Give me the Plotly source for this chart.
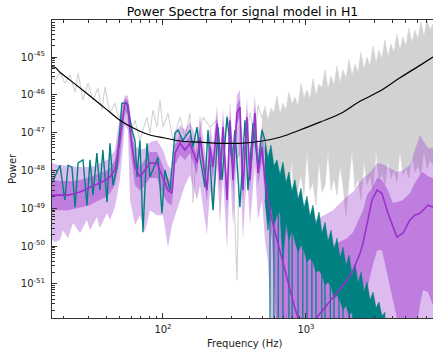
import plotly.graph_objects as go
import numpy as np

# ---------------- data (frequency in Hz, log10 power) ----------------
noise_f = [16.75, 17.6, 19.05, 22.4, 26.3, 30.9, 36.2, 42.6, 50.0, 58.8, 69.0, 81.1, 103, 131.5,
           181.5, 250.5, 345, 492, 658, 908, 1253, 1730, 2387, 3290, 4538, 6265, 7730]
noise_lp = [-45.26, -45.27, -45.40, -45.61, -45.82, -46.03, -46.24, -46.46, -46.67, -46.83, -46.96,
            -47.06, -47.14, -47.22, -47.25, -47.28, -47.28, -47.22, -47.12, -46.93, -46.72, -46.50,
            -46.17, -45.90, -45.55, -45.22, -45.00]

data_f = [16.75, 17.58, 19.05, 20.6, 22.4, 24.3, 25.5, 27.6, 29.9, 32.4, 35.1, 37.4, 39.3, 42.6,
          46.1, 48.4, 51.6, 56.0, 58.8, 63.7, 69.0, 77.3, 81.1, 85.1, 90.8, 95.3, 100, 108.4,
          117.5, 131.5, 142.6, 154.5, 162.2, 172.9, 190.5, 213.2, 238.8, 258.8, 280.6, 303.9,
          329.2, 345.3, 374.3, 405.7, 439.7, 461.6, 492.3]
data_lp = [-45.53, -45.61, -45.40, -45.69, -45.48, -45.93, -45.42, -46.14, -45.69, -46.14, -45.82,
           -46.40, -45.79, -46.48, -46.22, -46.53, -46.67, -46.40, -47.01, -46.67, -47.20, -46.59,
           -47.01, -46.40, -46.85, -46.14, -46.85, -46.48, -47.20, -46.59, -47.12, -46.48, -48.86,
           -47.28, -46.59, -46.85, -46.67, -47.72, -46.53, -47.20, -50.90, -46.80, -47.46, -46.46,
           -47.20, -46.27, -46.61]

data_hi_f = [492.3, 516.6, 542.0, 568.9, 597.0, 626.6, 657.7, 690.2, 724.4, 760.3, 797.7, 837.4,
             879.4, 922.6, 968.3, 1016, 1066, 1119, 1175, 1233, 1294, 1358, 1426, 1496, 1570, 1648,
             1730, 1815, 1905, 2000, 2099, 2203, 2312, 2427, 2547, 2672, 2805, 2944, 3090, 3239,
             3398, 3566, 3742, 3927, 4121, 4325, 4538, 4762, 5000, 5248, 5508, 5777, 6067, 6368,
             6683, 7015, 7362, 7730]
data_hi_upper = [-46.61, -46.30, -46.69, -46.35, -46.48, -46.03, -46.51, -46.22, -46.40, -45.93,
                 -46.24, -46.06, -46.30, -45.71, -46.08, -45.87, -46.11, -45.58, -46.01, -45.71,
                 -45.82, -45.34, -45.85, -45.50, -45.74, -45.24, -45.69, -45.34, -45.56, -45.08,
                 -45.50, -45.19, -45.40, -44.87, -45.34, -45.00, -45.24, -44.71, -45.16, -44.82,
                 -45.05, -44.55, -45.00, -44.66, -44.87, -44.39, -44.82, -44.47, -44.71, -44.23,
                 -44.63, -44.29, -44.52, -44.07, -44.47, -44.02, -44.29, -44.13]
data_hi_lower = [-47.86, -47.46, -48.20, -48.04, -47.72, -48.52, -48.33, -48.78, -49.63, -48.41,
                 -47.72, -49.84, -48.47, -48.12, -48.65, -47.46, -48.52, -48.31, -48.92, -47.72,
                 -48.57, -48.39, -47.46, -48.52, -48.20, -48.65, -47.86, -48.39, -49.18, -48.25,
                 -47.46, -48.47, -48.20, -48.78, -47.72, -48.39, -48.12, -48.52, -47.46, -48.31,
                 -48.04, -48.39, -47.72, -48.20, -47.99, -48.31, -47.46, -48.12, -47.94, -48.20,
                 -47.59, -48.04, -47.86, -48.12, -47.46, -47.94, -47.72, -47.86]

inj_f = [16.75, 19.05, 20.6, 21.7, 23.1, 24.3, 25.5, 27.6, 29.4, 30.9, 32.4, 34.5, 36.2, 38.0, 40.6,
         42.6, 44.7, 47.7, 51.6, 56.0, 60.7, 63.7, 65.8, 69.0, 72.5, 77.3, 81.1, 85.1, 92.3, 98.4,
         103.3, 111.9, 121.3, 127.3, 138.0, 154.5, 162.2, 172.9, 181.5, 196.6, 206.5, 223.9, 242.7,
         258.8, 280.6, 303.9, 318.7, 345.3, 374.3, 392.9, 425.9, 461.6, 492.3, 516.6]
inj_lp = [-48.33, -47.86, -48.78, -47.86, -47.91, -48.97, -47.80, -47.72, -48.92, -47.72, -48.65,
          -47.54, -48.52, -47.46, -48.84, -47.28, -48.39, -47.91, -46.22, -46.22, -46.93, -47.20,
          -48.17, -47.20, -49.63, -47.28, -48.17, -47.99, -47.65, -49.13, -47.99, -48.52, -47.01,
          -46.93, -47.20, -46.93, -47.38, -46.85, -47.65, -48.44, -46.93, -49.05, -46.85, -48.25,
          -46.59, -47.80, -46.93, -48.97, -46.67, -48.52, -46.75, -47.91, -46.93, -47.20]

inj_hi_f = [516.6, 542.0, 568.9, 597.0, 626.6, 657.7, 690.2, 724.4, 760.3, 797.7, 837.4, 879.4,
            922.6, 968.3, 1016, 1066, 1119, 1175, 1233, 1294, 1358, 1426, 1496, 1570, 1648, 1730,
            1815, 1905, 2000, 2099, 2203, 2312, 2427, 2547, 2672, 2805, 2944, 3090, 3239, 3398, 3566]
inj_hi_upper = [-47.20, -47.67, -47.33, -47.88, -47.72, -48.12, -47.78, -48.33, -48.04, -48.55,
                -48.25, -48.76, -48.47, -48.99, -48.68, -49.21, -48.92, -49.44, -49.10, -49.66,
                -49.37, -49.87, -49.58, -50.11, -49.79, -50.32, -50.03, -50.53, -50.24, -50.77,
                -50.48, -50.98, -50.69, -51.22, -50.95, -51.43, -51.22, -51.64, -51.48, -51.85,
                -51.75]
inj_hi_lower = [-48.78, -49.58, -48.92, -49.44, -49.18, -49.10, -50.37, -49.37, -49.84, -49.58,
                -49.84, -50.16, -49.97, -50.11, -50.42, -50.32, -50.42, -50.69, -50.64, -50.77,
                -51.03, -50.95, -51.06, -51.38, -51.30, -51.43, -51.69, -51.56, -51.83, -51.75,
                -52.5, -52.5, -52.5, -52.5, -52.5, -52.5, -52.5, -52.5, -52.5, -52.5, -52.5]
inj_spike_f = [560, 597, 640, 690, 760, 800, 880, 950, 1016, 1100, 1175, 1290, 1358, 1480, 1570,
               1700, 1815, 2000]
inj_spike_top = [-49.0, -49.2, -49.0, -49.4, -49.3, -49.6, -49.6, -49.9, -49.9, -50.2, -50.2,
                 -50.5, -50.5, -50.9, -50.9, -51.2, -51.2, -51.4]
spike_floor = -52.5

model_f = [16.75, 17.58, 19.05, 20.0, 21.7, 23.5, 26.3, 29.4, 30.9, 34.5, 36.2, 40.6, 42.6, 46.1,
           50.0, 54.2, 56.9, 58.8, 63.7, 69.0, 74.8, 81.1, 90.8, 100, 108.4, 115.6, 121.3, 131.5,
           142.6, 154.5, 172.9, 181.5, 203.0, 213.2, 223.9, 238.8, 250.5, 263.0, 280.6, 294.2,
           308.9, 329.2, 345.3, 362.4, 386.6, 405.7, 439.7, 461.6, 492.3, 516.6, 542.0, 578.2,
           626.6, 712.8, 837.4, 984, 1194, 1545, 1936, 2132, 2387, 2505, 2672, 2897, 3140, 3398,
           3742, 4055, 4325, 4762, 5331, 5777, 6265, 6580, 7131, 7730]
model_median = [-48.65, -48.65, -48.65, -48.65, -48.65, -48.62, -48.57, -48.49, -48.44, -48.36,
                -48.33, -48.23, -48.17, -47.99, -47.20, -46.19, -46.27, -46.93, -47.91, -48.17,
                -47.99, -47.80, -47.80, -48.17, -48.52, -48.60, -47.54, -47.28, -47.46, -47.28,
                -47.80, -47.12, -48.52, -47.38, -47.91, -46.75, -48.25, -46.85, -48.78, -46.67,
                -48.25, -46.48, -46.32, -48.52, -46.59, -48.25, -46.48, -48.07, -47.38, -48.25,
                -48.78, -49.31, -49.84, -50.64, -51.64, -52.5, -51.88, -51.35, -50.90, -50.64,
                -50.19, -49.92, -49.39, -48.78, -48.52, -48.60, -49.13, -49.50, -49.76, -49.66,
                -49.31, -49.18, -49.13, -49.05, -48.92, -48.97]
model_50_upper = [-48.25, -48.25, -48.28, -48.28, -48.28, -48.28, -48.25, -48.20, -48.17, -48.10,
                  -48.07, -47.99, -47.94, -47.72, -46.80, -46.08, -46.14, -46.61, -47.59, -47.91,
                  -47.72, -47.51, -47.51, -47.86, -48.20, -48.31, -47.33, -47.06, -47.25, -47.06,
                  -47.59, -46.90, -48.25, -47.17, -47.67, -46.53, -47.99, -46.64, -48.52, -46.46,
                  -47.99, -46.27, -46.11, -48.25, -46.38, -47.99, -46.27, -47.80, -47.17, -47.86,
                  -48.25, -48.65, -48.92, -49.18, -49.71, -50.11, -50.16, -49.97, -49.79, -49.63,
                  -49.23, -49.05, -48.65, -48.47, -48.20, -48.25, -48.52, -48.86, -48.84, -48.78,
                  -48.60, -48.33, -48.12, -48.04, -48.15, -48.20]
model_50_lower = [-49.05, -49.05, -49.05, -49.05, -49.05, -49.02, -48.99, -48.94, -48.92, -48.81,
                  -48.78, -48.68, -48.60, -48.39, -47.72, -46.40, -46.53, -47.33, -48.39, -48.52,
                  -48.39, -48.20, -48.20, -48.65, -48.86, -48.92, -47.86, -47.59, -47.72, -47.54,
                  -48.12, -47.38, -48.84, -47.65, -48.20, -47.01, -48.57, -47.12, -49.10, -46.93,
                  -48.57, -46.75, -46.59, -48.84, -46.85, -48.57, -46.75, -48.39, -47.72, -48.65,
                  -49.18, -49.84, -52.5, -52.5, -52.5, -52.5, -52.5, -52.5, -52.5, -52.5,
                  -52.5, -51.90, -51.16, -50.58, -50.11, -50.11, -50.77, -51.43, -51.90, -52.5,
                  -52.5, -52.5, -51.56, -51.16, -51.22, -51.56]
model_90_upper = [-47.80, -47.83, -47.86, -47.86, -47.88, -47.88, -47.91, -47.91, -47.91, -47.86,
                  -47.80, -47.72, -47.65, -47.46, -46.53, -46.01, -46.03, -46.40, -47.33, -47.46,
                  -47.41, -47.25, -47.20, -47.46, -47.86, -47.99, -47.06, -46.80, -46.93, -46.72,
                  -47.20, -46.53, -47.86, -46.80, -47.33, -46.27, -47.59, -46.35, -48.12, -46.14,
                  -47.59, -46.01, -45.87, -47.86, -46.08, -47.59, -46.01, -47.46, -46.80, -47.46,
                  -47.86, -48.12, -48.31, -48.65, -49.10, -49.37, -49.29, -49.05, -48.68, -48.57,
                  -48.31, -48.20, -48.12, -47.99, -47.80, -47.83, -47.91, -47.99, -48.04, -47.99,
                  -47.86, -47.46, -47.06, -47.20, -47.41, -47.41]
model_90_lower = [-49.84, -49.89, -49.84, -49.58, -49.79, -49.39, -49.66, -49.31, -49.58, -49.23,
                  -49.52, -49.13, -49.31, -48.97, -48.25, -46.80, -46.93, -48.78, -49.44, -49.18,
                  -49.63, -49.05, -49.18, -49.18, -50.03, -49.44, -49.18, -48.78, -48.39, -48.12,
                  -48.78, -48.39, -49.71, -48.52, -49.05, -47.86, -49.44, -48.12, -50.11, -47.99,
                  -49.44, -47.72, -47.59, -49.84, -47.99, -49.44, -47.86, -49.31, -48.78, -49.84,
                  -50.42] + [-52.5] * 25

y_tick_exp = [-45, -46, -47, -48, -49, -50, -51]
x_tick_vals = [100, 1000]
x_tick_text = ["10<sup>2</sup>", "10<sup>3</sup>"]


def pw(a):
    return [10.0 ** v for v in a]


def band(f, up, lo, color, line_color=None, lw=0):
    return go.Scatter(x=list(f) + list(f)[::-1], y=pw(up) + pw(lo)[::-1], mode="lines",
                      line=dict(width=lw, color=line_color or color), fill="toself",
                      fillcolor=color, hoverinfo="skip", showlegend=False)


spike_x, spike_y = [], []
for f, t in zip(inj_spike_f, inj_spike_top):
    spike_x += [f, f, None]
    spike_y += [10.0 ** t, 10.0 ** spike_floor, None]

GRAY = "#d2d2d2"
TEAL = "#008080"
fig = go.Figure()
fig.add_trace(go.Scatter(x=data_f, y=pw(data_lp), mode="lines",
                         line=dict(color=GRAY, width=1.1), showlegend=False))
fig.add_trace(band(data_hi_f, data_hi_upper, data_hi_lower, GRAY, GRAY, 0.6))
fig.add_trace(band(model_f, model_90_upper, model_90_lower, "rgba(153,50,204,0.33)"))
fig.add_trace(band(model_f, model_50_upper, model_50_lower, "rgba(153,50,204,0.45)"))
fig.add_trace(go.Scatter(x=inj_f, y=pw(inj_lp), mode="lines",
                         line=dict(color=TEAL, width=1.4), showlegend=False))
fig.add_trace(band(inj_hi_f, inj_hi_upper, inj_hi_lower, TEAL, TEAL, 0.6))
fig.add_trace(go.Scatter(x=spike_x, y=spike_y, mode="lines", connectgaps=False,
                         line=dict(color=TEAL, width=1.2), showlegend=False))
fig.add_trace(go.Scatter(x=model_f, y=pw(model_median), mode="lines",
                         line=dict(color="#9932cc", width=1.6), showlegend=False))
fig.add_trace(go.Scatter(x=noise_f, y=pw(noise_lp), mode="lines", line_shape="spline",
                         line=dict(color="black", width=1.2), showlegend=False))

x_minor = [k * 10 ** n for n in (1, 2, 3) for k in range(2, 10)]
y_minor = [k * 10.0 ** n for n in range(-52, -44) for k in range(2, 10)]

fig.update_layout(
    width=433, height=350, margin=dict(l=52, r=0, t=20, b=32),
    paper_bgcolor="white", plot_bgcolor="white",
    font=dict(family="DejaVu Sans", size=10, color="#222"),
    title=dict(text="Power Spectra for signal model in H1", x=0.5, xref="paper",
               y=1 - 12 / 350, yref="container", yanchor="middle", xanchor="center",
               font=dict(size=12.5, color="black")),
    xaxis=dict(type="log", range=[np.log10(16.75), np.log10(7730)], tickvals=x_tick_vals,
               ticktext=x_tick_text, ticks="inside", ticklen=5, tickcolor="#333",
               showline=True, linecolor="#333", linewidth=1, mirror="ticks", showgrid=False,
               zeroline=False, ticklabelstandoff=2,
               minor=dict(tickvals=x_minor, ticks="inside", ticklen=2.5, tickcolor="#333",
                          showgrid=False)),
    yaxis=dict(type="log", range=[-51.9, -44.02], tickvals=[10.0 ** e for e in y_tick_exp],
               ticktext=["10<sup>%d</sup>" % e for e in y_tick_exp], ticks="inside", ticklen=5,
               tickcolor="#333", showline=True, linecolor="#333", linewidth=1, showgrid=False,
               zeroline=False, ticklabelstandoff=4,
               minor=dict(tickvals=y_minor, ticks="inside", ticklen=2.5, tickcolor="#333",
                          showgrid=False)),
    annotations=[
        dict(text="Power", xref="paper", yref="paper", x=(12 - 52) / 381, y=0.5,
             textangle=-90, showarrow=False, xanchor="center", yanchor="middle",
             font=dict(size=10, color="#222")),
        dict(text="Frequency (Hz)", xref="paper", yref="paper", x=(245 - 52) / 381,
             y=(318 - 343) / 298, showarrow=False, xanchor="center", yanchor="middle",
             font=dict(size=10, color="#222")),
    ],
)

fig.write_html("out.html")
